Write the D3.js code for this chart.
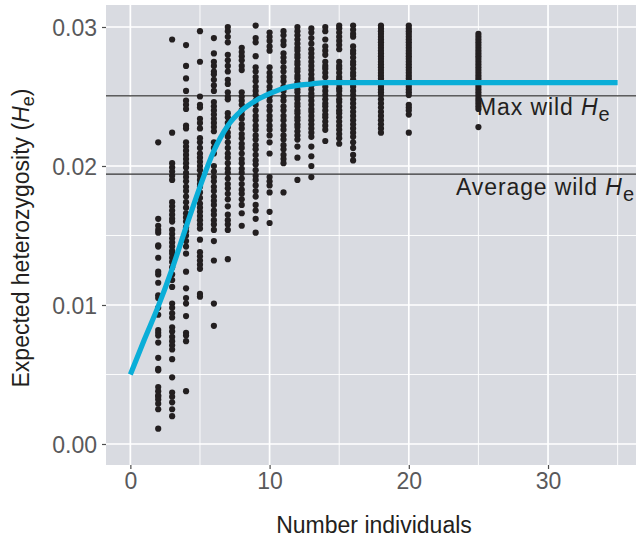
<!DOCTYPE html>
<html>
<head>
<meta charset="utf-8">
<script src="https://cdn.jsdelivr.net/npm/d3@7"></script>
<style>
  html, body { margin: 0; padding: 0; background: #ffffff; }
  svg { display: block; font-family: "Liberation Sans", Arial, Helvetica, sans-serif; }
</style>
</head>
<body>
<svg id="chart" width="636" height="538"></svg>
<script>
// ---------- data ----------
const groupSizes = [2, 3, 4, 5, 6, 7, 8, 9, 10, 11, 12, 13, 14, 15, 16, 18, 20, 25];

const heByGroup = [
  [0.0217, 0.0162, 0.0157, 0.0154, 0.0152, 0.0143, 0.0142, 0.0134, 0.0124, 0.0122, 0.0116, 0.0107, 0.0105, 0.0098, 0.0093, 0.0082, 0.0080, 0.0078, 0.0073, 0.0062, 0.0054, 0.0053, 0.0041, 0.0038, 0.0035, 0.0034, 0.0032, 0.0029, 0.0025, 0.0011],
  [0.0291, 0.0224, 0.0202, 0.0199, 0.0196, 0.0193, 0.0190, 0.0174, 0.0171, 0.0168, 0.0165, 0.0162, 0.0160, 0.0154, 0.0151, 0.0148, 0.0145, 0.0142, 0.0139, 0.0137, 0.0134, 0.0131, 0.0127, 0.0122, 0.0118, 0.0113, 0.0101, 0.0098, 0.0094, 0.0091, 0.0084, 0.0081, 0.0077, 0.0074, 0.0071, 0.0068, 0.0061, 0.0048, 0.0037, 0.0034, 0.0030, 0.0025, 0.0020],
  [0.0287, 0.0272, 0.0263, 0.0254, 0.0247, 0.0244, 0.0241, 0.0229, 0.0227, 0.0217, 0.0214, 0.0211, 0.0208, 0.0205, 0.0202, 0.0199, 0.0195, 0.0192, 0.0189, 0.0185, 0.0182, 0.0178, 0.0174, 0.0170, 0.0166, 0.0163, 0.0160, 0.0156, 0.0153, 0.0150, 0.0146, 0.0142, 0.0137, 0.0124, 0.0112, 0.0105, 0.0101, 0.0092, 0.0080, 0.0078, 0.0074, 0.0038],
  [0.0297, 0.0275, 0.0250, 0.0244, 0.0242, 0.0234, 0.0231, 0.0227, 0.0220, 0.0217, 0.0213, 0.0209, 0.0206, 0.0203, 0.0200, 0.0197, 0.0193, 0.0190, 0.0187, 0.0185, 0.0181, 0.0177, 0.0173, 0.0170, 0.0167, 0.0164, 0.0161, 0.0158, 0.0155, 0.0147, 0.0138, 0.0135, 0.0132, 0.0129, 0.0126, 0.0108, 0.0106],
  [0.0292, 0.0281, 0.0275, 0.0272, 0.0268, 0.0266, 0.0262, 0.0258, 0.0254, 0.0246, 0.0243, 0.0240, 0.0237, 0.0234, 0.0231, 0.0228, 0.0225, 0.0217, 0.0213, 0.0209, 0.0200, 0.0196, 0.0192, 0.0189, 0.0185, 0.0182, 0.0178, 0.0175, 0.0172, 0.0168, 0.0165, 0.0161, 0.0158, 0.0154, 0.0146, 0.0132, 0.0101, 0.0085],
  [0.0300, 0.0297, 0.0293, 0.0289, 0.0280, 0.0276, 0.0272, 0.0268, 0.0262, 0.0259, 0.0253, 0.0250, 0.0248, 0.0238, 0.0235, 0.0231, 0.0228, 0.0224, 0.0221, 0.0217, 0.0213, 0.0209, 0.0206, 0.0202, 0.0198, 0.0195, 0.0191, 0.0187, 0.0184, 0.0180, 0.0176, 0.0171, 0.0165, 0.0161, 0.0158, 0.0154, 0.0133],
  [0.0285, 0.0282, 0.0279, 0.0276, 0.0272, 0.0269, 0.0253, 0.0250, 0.0247, 0.0244, 0.0240, 0.0237, 0.0234, 0.0230, 0.0227, 0.0223, 0.0220, 0.0216, 0.0213, 0.0209, 0.0205, 0.0202, 0.0198, 0.0195, 0.0191, 0.0187, 0.0183, 0.0180, 0.0176, 0.0172, 0.0166, 0.0157],
  [0.0301, 0.0292, 0.0289, 0.0279, 0.0271, 0.0268, 0.0264, 0.0261, 0.0257, 0.0254, 0.0251, 0.0247, 0.0244, 0.0240, 0.0236, 0.0233, 0.0229, 0.0226, 0.0222, 0.0219, 0.0215, 0.0212, 0.0208, 0.0204, 0.0201, 0.0197, 0.0193, 0.0190, 0.0186, 0.0182, 0.0178, 0.0172, 0.0168, 0.0162, 0.0152],
  [0.0296, 0.0293, 0.0290, 0.0286, 0.0283, 0.0271, 0.0267, 0.0264, 0.0261, 0.0257, 0.0254, 0.0250, 0.0247, 0.0243, 0.0240, 0.0236, 0.0233, 0.0229, 0.0226, 0.0222, 0.0217, 0.0209, 0.0192, 0.0189, 0.0186, 0.0181, 0.0167, 0.0159],
  [0.0297, 0.0294, 0.0290, 0.0287, 0.0281, 0.0278, 0.0275, 0.0271, 0.0268, 0.0264, 0.0261, 0.0257, 0.0254, 0.0250, 0.0247, 0.0243, 0.0240, 0.0236, 0.0233, 0.0229, 0.0226, 0.0222, 0.0219, 0.0215, 0.0212, 0.0208, 0.0205, 0.0202, 0.0181],
  [0.0300, 0.0297, 0.0294, 0.0291, 0.0288, 0.0285, 0.0283, 0.0280, 0.0278, 0.0275, 0.0273, 0.0270, 0.0268, 0.0265, 0.0263, 0.0260, 0.0258, 0.0255, 0.0253, 0.0250, 0.0248, 0.0245, 0.0243, 0.0240, 0.0238, 0.0235, 0.0233, 0.0230, 0.0228, 0.0225, 0.0222, 0.0219, 0.0214, 0.0206, 0.0190],
  [0.0299, 0.0296, 0.0292, 0.0288, 0.0284, 0.0281, 0.0278, 0.0275, 0.0272, 0.0269, 0.0266, 0.0263, 0.0261, 0.0258, 0.0255, 0.0252, 0.0250, 0.0247, 0.0244, 0.0241, 0.0239, 0.0236, 0.0233, 0.0230, 0.0227, 0.0224, 0.0221, 0.0214, 0.0207, 0.0200, 0.0192],
  [0.0300, 0.0297, 0.0291, 0.0286, 0.0283, 0.0280, 0.0275, 0.0272, 0.0270, 0.0267, 0.0264, 0.0257, 0.0254, 0.0251, 0.0248, 0.0245, 0.0243, 0.0240, 0.0237, 0.0235, 0.0232, 0.0229, 0.0226, 0.0218],
  [0.0301, 0.0299, 0.0296, 0.0293, 0.0290, 0.0287, 0.0284, 0.0275, 0.0272, 0.0270, 0.0267, 0.0264, 0.0262, 0.0259, 0.0256, 0.0254, 0.0251, 0.0248, 0.0246, 0.0243, 0.0240, 0.0238, 0.0235, 0.0232, 0.0229, 0.0226, 0.0223, 0.0220, 0.0216],
  [0.0301, 0.0298, 0.0295, 0.0293, 0.0286, 0.0283, 0.0281, 0.0278, 0.0275, 0.0273, 0.0270, 0.0267, 0.0265, 0.0262, 0.0259, 0.0257, 0.0254, 0.0251, 0.0248, 0.0245, 0.0242, 0.0239, 0.0236, 0.0233, 0.0230, 0.0227, 0.0224, 0.0221, 0.0217, 0.0213, 0.0208, 0.0204],
  [0.0301, 0.0299, 0.0297, 0.0295, 0.0293, 0.0291, 0.0289, 0.0287, 0.0285, 0.0283, 0.0281, 0.0279, 0.0277, 0.0275, 0.0273, 0.0271, 0.0269, 0.0267, 0.0265, 0.0263, 0.0261, 0.0259, 0.0257, 0.0255, 0.0253, 0.0251, 0.0248, 0.0245, 0.0242, 0.0239, 0.0236, 0.0233, 0.0230, 0.0227, 0.0224],
  [0.0301, 0.0299, 0.0297, 0.0295, 0.0293, 0.0291, 0.0289, 0.0287, 0.0285, 0.0283, 0.0281, 0.0279, 0.0277, 0.0275, 0.0273, 0.0271, 0.0269, 0.0267, 0.0265, 0.0263, 0.0261, 0.0259, 0.0257, 0.0255, 0.0253, 0.0251, 0.0244, 0.0242, 0.0240, 0.0237, 0.0224],
  [0.0295, 0.0293, 0.0291, 0.0289, 0.0287, 0.0285, 0.0283, 0.0281, 0.0279, 0.0277, 0.0275, 0.0273, 0.0271, 0.0269, 0.0267, 0.0265, 0.0263, 0.0261, 0.0259, 0.0257, 0.0255, 0.0253, 0.0251, 0.0249, 0.0247, 0.0245, 0.0243, 0.0241, 0.0228]
];

const curveX = [0, 1, 2, 3, 4, 5, 6, 7, 8, 9, 10, 11, 12, 13, 14, 15, 20, 25, 30, 35];
const curveY = [0.0050, 0.0075, 0.0099, 0.0126, 0.0156, 0.0185, 0.0211, 0.0229, 0.0240, 0.0247, 0.0252, 0.0256, 0.0258, 0.0259, 0.0260, 0.0260, 0.0260, 0.0260, 0.0260, 0.0260];

const refLabels = ["Max wild ", "Average wild "];
const refValues = [0.02504, 0.01942];

const xTicks = [0, 10, 20, 30];
const xMinor = [5, 15, 25, 35];
const yTicks = [0.00, 0.01, 0.02, 0.03];
const yMinor = [0.005, 0.015, 0.025];

// ---------- layout ----------
const svg = d3.select("#chart");
const panel = { left: 106, right: 642, top: 5, bottom: 465 };

const x = d3.scaleLinear().domain([-1.75, 36.75]).range([panel.left, panel.right]);
const y = d3.scaleLinear().domain([-0.001511, 0.031583]).range([panel.bottom, panel.top]);

// panel background
svg.append("rect")
  .attr("x", panel.left).attr("y", panel.top)
  .attr("width", panel.right - panel.left).attr("height", panel.bottom - panel.top)
  .attr("fill", "#d9dbe1");

const grid = svg.append("g");
grid.selectAll(".ymin").data(yMinor).enter().append("line")
  .attr("x1", panel.left).attr("x2", panel.right)
  .attr("y1", d => y(d)).attr("y2", d => y(d))
  .attr("stroke", "#ffffff").attr("stroke-width", 0.9);
grid.selectAll(".xmin").data(xMinor).enter().append("line")
  .attr("y1", panel.top).attr("y2", panel.bottom)
  .attr("x1", d => x(d)).attr("x2", d => x(d))
  .attr("stroke", "#ffffff").attr("stroke-width", 0.9);
grid.selectAll(".ymaj").data(yTicks).enter().append("line")
  .attr("x1", panel.left).attr("x2", panel.right)
  .attr("y1", d => y(d)).attr("y2", d => y(d))
  .attr("stroke", "#ffffff").attr("stroke-width", 1.7);
grid.selectAll(".xmaj").data(xTicks).enter().append("line")
  .attr("y1", panel.top).attr("y2", panel.bottom)
  .attr("x1", d => x(d)).attr("x2", d => x(d))
  .attr("stroke", "#ffffff").attr("stroke-width", 1.7);

// reference lines
svg.append("g").selectAll("line").data(refValues).enter().append("line")
  .attr("x1", panel.left).attr("x2", panel.right)
  .attr("y1", d => y(d)).attr("y2", d => y(d))
  .attr("stroke", "#333333").attr("stroke-width", 1.3);

// points
const points = [];
groupSizes.forEach((g, i) => heByGroup[i].forEach(v => points.push({ n: g, he: v })));
svg.append("g").selectAll("circle").data(points).enter().append("circle")
  .attr("cx", d => x(d.n)).attr("cy", d => y(d.he)).attr("r", 3.1)
  .attr("fill", "#231f20");

// fitted curve
const curveData = curveX.map((d, i) => [d, curveY[i]]);
svg.append("path")
  .datum(curveData)
  .attr("fill", "none")
  .attr("stroke", "#0aaed8")
  .attr("stroke-width", 5.2)
  .attr("d", d3.line().x(d => x(d[0])).y(d => y(d[1])).curve(d3.curveMonotoneX));

// reference labels
const labelPos = [{ x: 477, y: 115 }, { x: 456, y: 195 }];
refLabels.forEach((t, i) => {
  const tx = svg.append("text")
    .attr("x", labelPos[i].x).attr("y", labelPos[i].y)
    .attr("font-size", 23).attr("letter-spacing", 0.9).attr("fill", "#231f20");
  tx.append("tspan").text(t);
  tx.append("tspan").attr("font-style", "italic").text("H");
  tx.append("tspan").attr("font-size", 20).attr("dy", 6).text("e");
});

// axes
const xAxis = svg.append("g").attr("transform", `translate(0,${panel.bottom})`)
  .call(d3.axisBottom(x).tickValues(xTicks).tickSize(4).tickPadding(3).tickFormat(d3.format("d")));
const yAxis = svg.append("g").attr("transform", `translate(${panel.left},0)`)
  .call(d3.axisLeft(y).tickValues(yTicks).tickSize(4).tickPadding(5).tickFormat(d3.format(".2f")));
[xAxis, yAxis].forEach(a => {
  a.select(".domain").remove();
  a.selectAll(".tick line").attr("stroke", "#4d4d4d").attr("stroke-width", 1.2);
  a.selectAll(".tick text").attr("fill", "#59595b").attr("font-size", 23)
    .attr("font-family", "'Liberation Sans', Arial, sans-serif");
});
yAxis.selectAll(".tick text").attr("dy", "0.36em");
xAxis.selectAll(".tick text").attr("dy", "0.72em");

// axis titles
svg.append("text")
  .attr("x", 374).attr("y", 533)
  .attr("text-anchor", "middle").attr("font-size", 23).attr("fill", "#231f20")
  .text("Number individuals");

const yt = svg.append("text")
  .attr("transform", "translate(29,238) rotate(-90)")
  .attr("text-anchor", "middle").attr("font-size", 23).attr("fill", "#231f20");
yt.append("tspan").text("Expected heterozygosity (");
yt.append("tspan").attr("font-style", "italic").text("H");
yt.append("tspan").attr("font-size", 18).attr("dy", 5).text("e");
yt.append("tspan").attr("dy", -5).text(")");
</script>
</body>
</html>
